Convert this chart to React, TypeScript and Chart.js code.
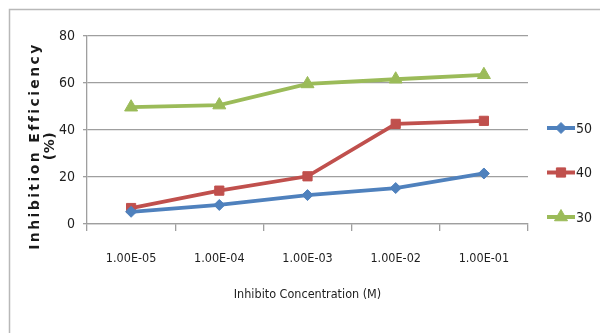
import React, { useEffect, useRef } from "react";
import { Chart, registerables } from "chart.js";
import * as helpers from "chart.js/helpers";

Chart.register(...registerables);

const categories = ["1.00E-05", "1.00E-04", "1.00E-03", "1.00E-02", "1.00E-01"];
const seriesNames = ["50", "40", "30"];
const series50 = [5.2, 8.1, 12.3, 15.3, 21.5];
const series40 = [6.8, 14.2, 20.3, 42.6, 43.9];
const series30 = [49.7, 50.6, 59.6, 61.6, 63.5];
const yTicks = [0, 20, 40, 60, 80];
const yTitle = ["Inhibition Efficiency", "(%)"];
const xTitle = "Inhibito Concentration (M)";

const colors = ["#4f81bd", "#c0504d", "#9bbb59"];
const pointStyles = ["rectRot", "rect", "triangle"];
const pointRadii = [5.5, 6.5, 7.5];
const gridColor = "#9f9f9f";
const textColor = "#1e1e1e";
const narrow = "'Liberation Sans Narrow', 'DejaVu Sans Condensed', Arial, sans-serif";

const framePlugin = {
  id: "frame",
  beforeDraw(chart: any) {
    const ctx = chart.ctx;
    ctx.save();
    ctx.strokeStyle = "#b8b8b8";
    ctx.lineWidth = 1.5;
    ctx.strokeRect(9.5, 9.5, 700, 500);
    ctx.restore();
  },
};

const yTitlePlugin = {
  id: "yTitle",
  afterDraw(chart: any) {
    const ctx = chart.ctx;
    const a = chart.chartArea;
    const cy = a.top + 110;
    ctx.save();
    ctx.fillStyle = "#1a1a1a";
    ctx.font = "bold 14px 'DejaVu Sans', Verdana, sans-serif";
    ctx.textAlign = "center";
    ctx.textBaseline = "middle";
    const xs = [35, 50];
    const spacing = ["2.4px", "0.5px"];
    yTitle.forEach((line, i) => {
      ctx.save();
      try { (ctx as any).letterSpacing = spacing[i]; } catch (e) {}
      ctx.translate(xs[i], cy);
      ctx.rotate(-Math.PI / 2);
      ctx.fillText(line, 0, 0);
      ctx.restore();
    });
    ctx.restore();
  },
};

const legendPlugin = {
  id: "customLegend",
  afterDraw(chart: any) {
    const ctx = chart.ctx;
    ctx.save();
    chart.data.datasets.forEach((ds: any, i: number) => {
      const y = 128 + i * 44.5;
      ctx.strokeStyle = ds.borderColor;
      ctx.lineWidth = 4;
      ctx.beginPath();
      ctx.moveTo(547, y);
      ctx.lineTo(575, y);
      ctx.stroke();
      ctx.fillStyle = ds.borderColor;
      ctx.strokeStyle = ds.borderColor;
      ctx.lineWidth = 1;
      helpers.drawPoint(ctx, { pointStyle: ds.pointStyle, radius: ds.pointRadius, rotation: 0, borderWidth: 1 }, 561, y);
      ctx.fillStyle = textColor;
      ctx.font = `14px ${narrow}`;
      ctx.textAlign = "left";
      ctx.textBaseline = "middle";
      ctx.fillText(ds.label, 576, y + 1);
    });
    ctx.restore();
  },
};

export default function App() {
  const ref = useRef<HTMLCanvasElement | null>(null);
  useEffect(() => {
    if (!ref.current) return;
    const data = [series50, series40, series30];
    const chart = new Chart(ref.current, {
      type: "line",
      data: {
        labels: categories,
        datasets: seriesNames.map((name, i) => ({
          label: name,
          data: data[i],
          borderColor: colors[i],
          backgroundColor: colors[i],
          borderWidth: 3.8,
          pointStyle: pointStyles[i] as any,
          pointRadius: pointRadii[i],
          pointBorderWidth: 1,
          tension: 0,
          fill: false,
        })),
      },
      options: {
        animation: false,
        responsive: false,
        maintainAspectRatio: false,
        layout: { padding: { top: 36, right: 72, left: 0, bottom: 0 } },
        plugins: {
          legend: { display: false },
          tooltip: { enabled: false },
        },
        scales: {
          x: {
            offset: true,
            grid: { display: true, drawOnChartArea: false, drawTicks: true, tickLength: 7, color: gridColor, offset: true, lineWidth: 1.3 },
            border: { display: true, color: gridColor, width: 1.3 },
            ticks: { color: textColor, font: { family: narrow, size: 12.5 }, padding: 20, maxRotation: 0 },
            title: { display: true, text: xTitle, color: textColor, font: { family: narrow, size: 12.5 }, padding: { top: 0, bottom: 31 } },
            afterFit: (s: any) => { s.height = 109; },
          },
          y: {
            min: yTicks[0],
            max: yTicks[yTicks.length - 1],
            ticks: { stepSize: yTicks[1] - yTicks[0], color: textColor, font: { family: narrow, size: 14 }, padding: 8 },
            grid: { color: gridColor, tickLength: 4, drawTicks: true, lineWidth: 1.3 },
            border: { display: true, color: gridColor, width: 1.3 },
            afterFit: (s: any) => { s.width = 87; },
          },
        },
      },
      plugins: [framePlugin, yTitlePlugin, legendPlugin],
    });
    return () => chart.destroy();
  }, []);
  return (
    <div style={{ position: "fixed", left: 0, top: 0, width: 600, height: 333, background: "#fff" }}>
      <canvas ref={ref} width={600} height={333} style={{ width: 600, height: 333 }} />
    </div>
  );
}
